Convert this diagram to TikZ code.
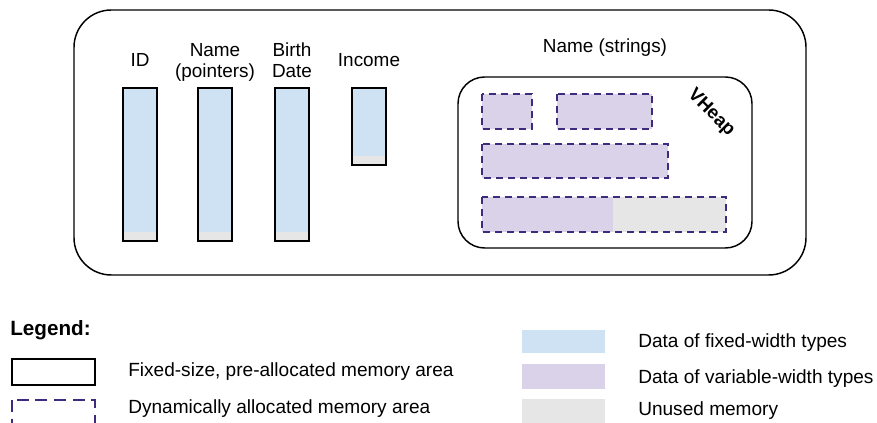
\documentclass[tikz,border=0pt]{standalone}
\usepackage{fontspec}
\setmainfont{Liberation Sans}
\begin{document}
\begin{tikzpicture}[x=0.75pt,y=-0.75pt,
  fixedarea/.style={draw=black,line width=1.1pt},
  dynarea/.style={draw=dashpurple,line width=1.1pt,dash pattern=on 5.5pt off 3.5pt},
  lbl/.style={inner sep=0pt,font=\fontsize{14.2}{15.8}\selectfont,align=center},
  lgd/.style={inner sep=0pt,font=\fontsize{14.3}{16}\selectfont,anchor=base west}]
\definecolor{fixedblue}{HTML}{CFE2F3}
\definecolor{varpurple}{HTML}{D9D2E9}
\definecolor{unusedgray}{HTML}{E6E6E6}
\definecolor{dashpurple}{HTML}{3F2B7E}
\useasboundingbox (0,0) rectangle (877,423);

% outer table area
\draw[fixedarea,rounded corners=28pt] (74,10) rectangle (806,275);

% fixed-width columns: data, unused tail, border
\foreach \xl/\yb in {123/241,198/241,275/241,352/165}{
  \fill[fixedblue] (\xl,88) rectangle (\xl+34,\yb);
  \fill[unusedgray] (\xl,\yb-9) rectangle (\xl+34,\yb);
  \draw[fixedarea] (\xl,88) rectangle (\xl+34,\yb);
}

% column headings (base = baseline of the last line)
\node[lbl,anchor=base] (hid) at (140,67) {ID};
\node[lbl,anchor=base] (hname) at (215,78) {Name\\(pointers)};
\node[lbl,anchor=base] (hbirth) at (292,78) {Birth\\Date};
\node[lbl,anchor=base] (hinc) at (369,67) {Income};
\node[lbl,anchor=base] (hstr) at (605,53) {Name (strings)};

% variable-width heap
\draw[fixedarea,rounded corners=20pt] (458,77) rectangle (752,248);
\node[lbl,font=\bfseries\fontsize{14}{16}\selectfont,rotate=-45] (vh) at (711,113) {VHeap};

\fill[varpurple] (482,94) rectangle (532,129);
\draw[dynarea] (482,94) rectangle (532,129);
\fill[varpurple] (557,94) rectangle (652,129);
\draw[dynarea] (557,94) rectangle (652,129);
\fill[varpurple] (482,144) rectangle (668,178);
\draw[dynarea] (482,144) rectangle (668,178);
\fill[varpurple] (482,197) rectangle (613,232);
\fill[unusedgray] (613,197) rectangle (726,232);
\draw[dynarea] (482,197) rectangle (726,232);

% legend
\node[lgd,font=\bfseries\fontsize{15.5}{17}\selectfont] (lg) at (10,336) {Legend:};
\draw[fixedarea] (12,359) rectangle (95,385);
\node[lgd] (lfix) at (128,377) {Fixed-size, pre-allocated memory area};
\draw[dynarea,dash pattern=on 9pt off 5pt] (12,400) rectangle (95,428);
\node[lgd] (ldyn) at (128,413) {Dynamically allocated memory area};

\fill[fixedblue] (522,330) rectangle (605,353);
\node[lgd] (lfw) at (638,348) {Data of fixed-width types};
\fill[varpurple] (522,364) rectangle (605,389);
\node[lgd] (lvw) at (638,383) {Data of variable-width types};
\fill[unusedgray] (522,399) rectangle (605,423);
\node[lgd] (lun) at (638,415) {Unused memory};
\end{tikzpicture}
\end{document}
